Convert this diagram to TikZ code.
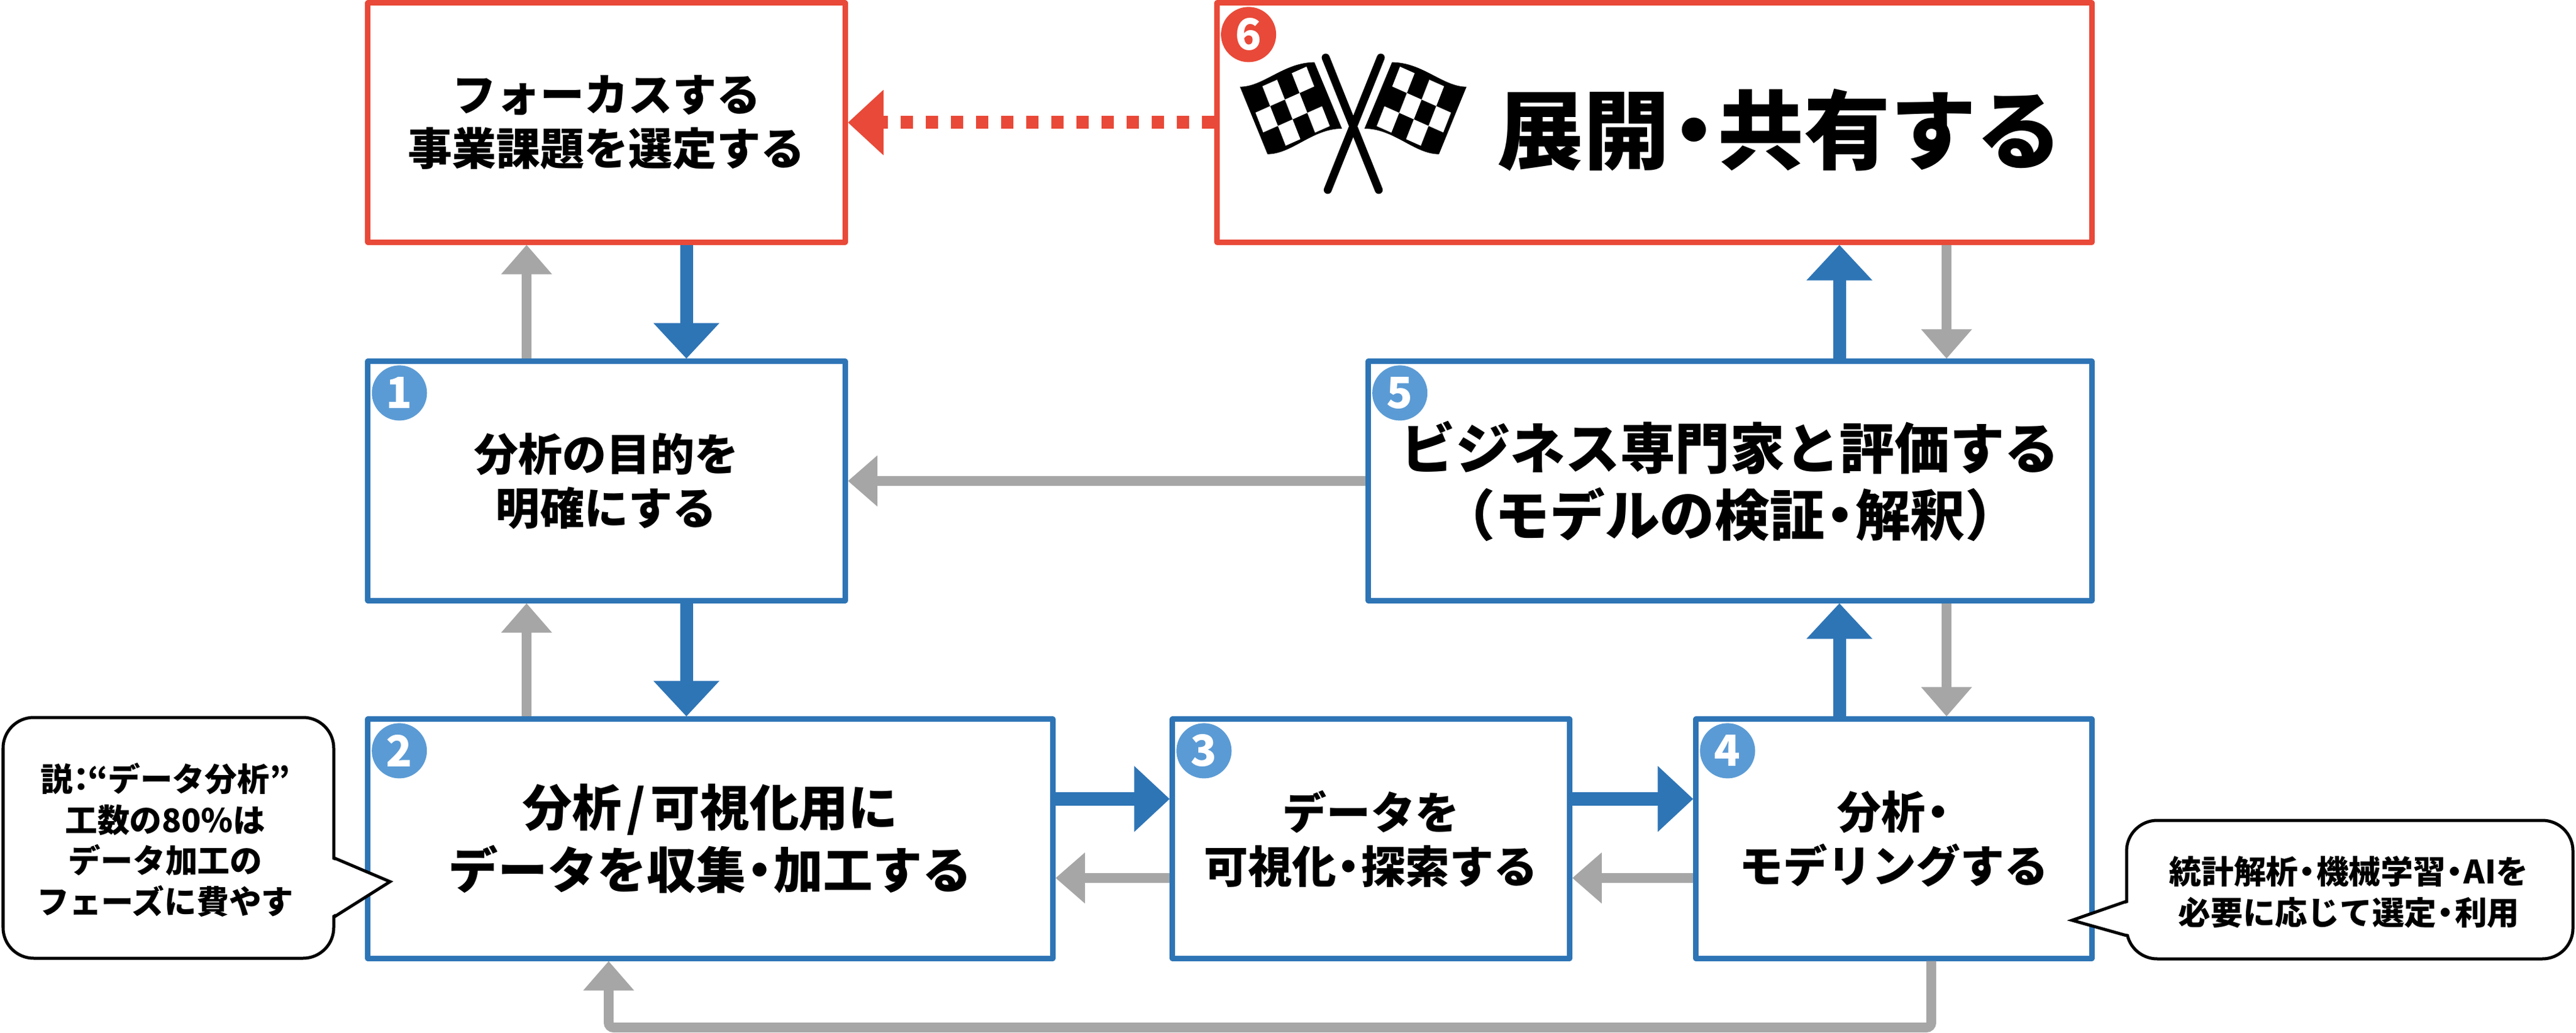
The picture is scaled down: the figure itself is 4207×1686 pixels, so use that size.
\documentclass[tikz,border=0pt]{standalone}
\usepackage{fontspec}
\setmainfont{Noto Sans CJK JP}
\usetikzlibrary{calc,arrows.meta}

\definecolor{stepblue}{RGB}{46,117,182}
\definecolor{stepred}{RGB}{233,73,56}
\definecolor{badgeblue}{RGB}{91,155,213}
\definecolor{flowgray}{RGB}{166,166,166}

\newcommand\txtM{\bfseries\fontsize{20.5}{25}\selectfont}
\newcommand\txtN{\bfseries\fontsize{23}{29}\selectfont}
\newcommand\txtL{\bfseries\fontsize{25.5}{31}\selectfont}
\newcommand\txtXL{\bfseries\fontsize{40}{42}\selectfont}
\newcommand\txtS{\bfseries\fontsize{15}{19}\selectfont}
% narrow punctuation
\newcommand\nd{\kern-.22em・\kern-.22em}
\newcommand\nsl{\kern.1em/\kern.1em}

\begin{document}
\begin{tikzpicture}[x=0.01cm, y=-0.01cm,
  stepbox/.style={draw=#1, line width=0.09cm, minimum height=3.9cm, inner sep=0pt, align=center, line join=round},
  badge/.style={circle, fill=#1, minimum size=0.9cm, inner sep=0pt, text=white, font=\bfseries\fontsize{20}{20}\selectfont},
  fwdarrow/.style={draw=stepblue, line width=0.21cm, -{Triangle[length=0.58cm,width=1.04cm]}},
  backarrow/.style={draw=flowgray, line width=0.16cm, -{Triangle[length=0.48cm,width=0.8cm]}},
  calloutbody/.style={draw=black, fill=white, line width=0.05cm, line join=round},
  callouttext/.style={align=center, font=\txtS}]

\useasboundingbox (0,0) rectangle (4207,1686);

% columns and rows for the connectors
\coordinate (cA) at (860,0);
\coordinate (cB) at (1121,0);
\coordinate (cC) at (3004,0);
\coordinate (cD) at (3179,0);
\coordinate (cE) at (994,0);
\coordinate (cF) at (3154,0);
\coordinate (hiB) at (0,1304);
\coordinate (loB) at (0,1433);
\coordinate (yLoop) at (0,1677);

% steps
\node[stepbox=stepred, minimum width=7.79cm, font=\txtM] (focus) at (990.5,200) {フォーカスする\\事業課題を選定する};
\node[stepbox=stepred, minimum width=14.28cm] (deploy) at (2702,200) {};
\node[stepbox=stepblue, minimum width=7.79cm, font=\txtM] (purpose) at (990.5,785) {分析の目的を\\明確にする};
\node[stepbox=stepblue, minimum width=11.81cm, font=\txtL] (evaluate) at (2825.5,785) {ビジネス専門家と評価する\\（モデルの検証\nd 解釈）};
\node[stepbox=stepblue, minimum width=11.18cm, font=\txtN] (collect) at (1160,1369) {分析\nsl 可視化用に\\データを収集\nd 加工する};
\node[stepbox=stepblue, minimum width=6.48cm, font=\txtM] (explore) at (2239,1369) {データを\\可視化\nd 探索する};
\node[stepbox=stepblue, minimum width=6.46cm, font=\txtM] (model) at (3093,1369) {分析\nd\\モデリングする};

\node[font=\txtXL] (deploytitle) at (2907,212) {展開\nd 共有する};

% numbers
\node[badge=badgeblue] (b1) at ($(purpose.north west)+(56,56)$) {1};
\node[badge=badgeblue] (b2) at ($(collect.north west)+(56,56)$) {2};
\node[badge=badgeblue] (b3) at ($(explore.north west)+(56,56)$) {3};
\node[badge=badgeblue] (b4) at ($(model.north west)+(56,56)$) {4};
\node[badge=badgeblue] (b5) at ($(evaluate.north west)+(56,56)$) {5};
\node[badge=stepred] (b6) at ($(deploy.north west)+(56,56)$) {6};

% checkered flags
\begin{scope}[shift={(2010,70)}, scale=1/3]
  \foreach \fs in {1,-1} {
    \begin{scope}[shift={(600,0)}, xscale=\fs, shift={(-600,0)}]
      \fill (45,215) .. controls (160,215) and (260,95) .. (410,95) -- (545,420)
        .. controls (400,420) and (300,545) .. (180,545) -- cycle;
      \foreach \i/\j in {0/0,2/0,-1/1,1/1,0/2,2/2} {
        \pgfmathsetmacro\cx{210+72*\i+38*\j}
        \pgfmathsetmacro\cy{245-32*\i+97*\j}
        \fill[white] (\cx-55,\cy-32.5) -- ++(72,-32) -- ++(38,97) -- ++(-72,32) -- cycle;
      }
    \end{scope}
  }
  \foreach \a/\b in {465/725,735/475}
    \draw[line width=0.13cm, line cap=round] (\a,72) -- (\b,720);
\end{scope}

% forward flow
\draw[fwdarrow] (focus.south -| cB) -- (purpose.north -| cB);
\draw[fwdarrow] (purpose.south -| cB) -- (collect.north -| cB);
\draw[fwdarrow] (collect.east |- hiB) -- (explore.west |- hiB);
\draw[fwdarrow] (explore.east |- hiB) -- (model.west |- hiB);
\draw[fwdarrow] (model.north -| cC) -- (evaluate.south -| cC);
\draw[fwdarrow] (evaluate.north -| cC) -- (deploy.south -| cC);

% feedback
\draw[backarrow] (purpose.north -| cA) -- (focus.south -| cA);
\draw[backarrow] (collect.north -| cA) -- (purpose.south -| cA);
\draw[backarrow] (explore.west |- loB) -- (collect.east |- loB);
\draw[backarrow] (model.west |- loB) -- (explore.east |- loB);
\draw[backarrow] (deploy.south -| cD) -- (evaluate.north -| cD);
\draw[backarrow] (evaluate.south -| cD) -- (model.north -| cD);
\draw[backarrow] (evaluate.west) -- (purpose.east);
\draw[backarrow, rounded corners=0.08cm] (model.south -| cF) -- (cF |- yLoop) -- (cE |- yLoop) -- (collect.south -| cE);

% restart
\draw[draw=stepred, line width=0.21cm, dash pattern=on 0.2cm off 0.21cm,
  -{Triangle[length=0.58cm,width=1.03cm]}] (deploy.west) -- (focus.east);

% notes
\draw[calloutbody, rounded corners=0.5cm] (5,1171) rectangle (545,1564);
\fill[white] (541,1402) -- (637,1439) -- (541,1495) -- cycle;
\draw[line width=0.05cm, line join=miter] (545,1400) -- (637,1439) -- (545,1497);
\node[callouttext] (factnote) at (270,1371) {説\kern-.25em：\kern-.3em“データ分析”\\工数の80\%は\\データ加工の\\フェーズに費やす};

\draw[calloutbody, rounded corners=0.5cm] (3473,1339) rectangle (4202,1565);
\fill[white] (3477,1473) -- (3384,1502) -- (3477,1525) -- cycle;
\draw[line width=0.05cm, line join=miter] (3473,1471) -- (3384,1502) -- (3473,1527);
\node[callouttext] (methodnote) at (3836,1456) {統計解析\nd 機械学習\nd AIを\\必要に応じて選定\nd 利用};

\end{tikzpicture}
\end{document}
